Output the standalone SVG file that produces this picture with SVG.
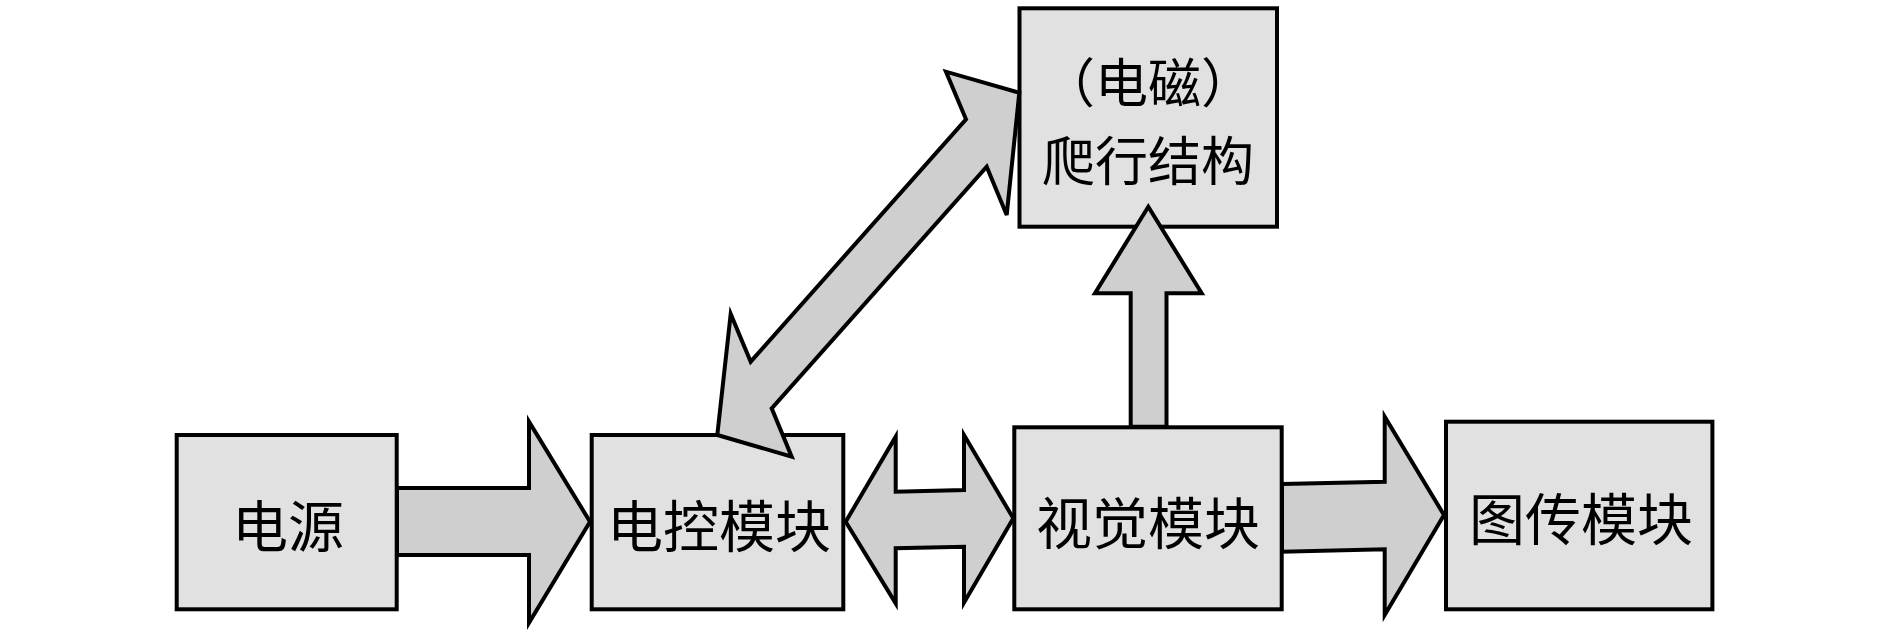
<svg xmlns="http://www.w3.org/2000/svg" width="1890" height="631" viewBox="0 0 1890 631">
<style>
.box{fill:#e1e1e1;stroke:#000;stroke-width:4;stroke-linejoin:miter}
.arr{fill:#cfcfcf;stroke:#000;stroke-width:4;stroke-linejoin:miter}
.t{font-family:"Noto Sans CJK SC","Noto Sans CJK TC",sans-serif;font-size:56px;fill:#000;text-anchor:middle;dominant-baseline:central}
.t2{font-size:53px}
</style>
<rect width="1890" height="631" fill="#fff"/>
<g id="node-power">
<rect class="box" x="176.7" y="435" width="220" height="174.3"/>
<text class="t" x="288" y="522">电源</text>
</g>
<g id="node-control">
<rect class="box" x="591.7" y="435" width="251.6" height="174.3"/>
<text class="t" x="719" y="522">电控模块</text>
</g>
<g id="node-vision">
<rect class="box" x="1014.3" y="427.3" width="267.4" height="182"/>
<text class="t" x="1148" y="519">视觉模块</text>
</g>
<g id="node-transmit">
<rect class="box" x="1446" y="421.7" width="266.4" height="187.6"/>
<text class="t" x="1581" y="515">图传模块</text>
</g>
<g id="node-crawler">
<rect class="box" x="1019.5" y="8.3" width="257.5" height="218.4"/>
<text class="t t2" x="1148" y="80">（电磁）</text>
<text class="t t2" x="1148" y="158">爬行结构</text>
</g>
<g id="connectors">
<polygon class="arr" points="397,488 529,488 529,421.7 590,521.7 529,622.7 529,555 397,555"/>
<polygon class="arr" points="845.7,521.7 895.7,436.7 895.7,491.7 964,490 964,435 1013.3,518.3 964,602.7 964,546.7 895.7,548.3 895.7,603.3"/>
<polygon class="arr" points="1282,484 1384.7,481.7 1384.7,416.7 1444,515 1384.7,615 1384.7,549.3 1282,551.7"/>
<polygon class="arr" points="1130.7,426.7 1130.7,293.3 1095,293.3 1148.3,206.7 1201.7,293.3 1166.5,293.3 1166.5,426.7"/>
<polygon class="arr" points="717.3,435 730.7,314 750.7,361.7 966,119.3 946,71.7 1019.3,92.7 1006.7,215 986.7,166.7 771.7,408.3 791.7,456.7"/>
</g>
</svg>
